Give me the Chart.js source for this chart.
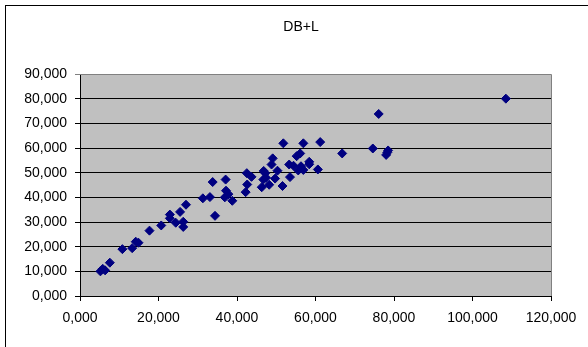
<!DOCTYPE html>
<html>
<head>
<meta charset="utf-8">
<script src="https://cdn.jsdelivr.net/npm/chart.js@4/dist/chart.umd.min.js"></script>
<style>
  html, body { margin: 0; padding: 0; background: #ffffff; }
  #wrap { width: 588px; height: 347px; position: relative; }
</style>
</head>
<body>
<div id="wrap"><canvas id="c" width="588" height="347"></canvas></div>
<script>
// DB+L scatter data (x, y pairs)
const chartTitle = 'DB+L';
const xValues = [
  5.2, 5.8, 6.4, 7.6, 10.8, 13.3, 14.2, 14.9, 17.7, 20.7,
  22.9, 22.9, 24.4, 25.5, 26.3, 26.3, 27.0, 31.3, 33.1, 33.8,
  34.4, 37.1, 37.2, 37.8, 36.9, 38.8, 42.5, 43.7, 42.6, 42.2,
  46.3, 46.7, 46.8, 47.2, 47.4, 48.2, 48.8, 49.1, 49.7, 50.3,
  51.6, 51.8, 53.3, 53.5, 54.4, 55.2, 56.1, 56.9, 55.6, 56.3,
  56.9, 58.4, 58.4, 60.6, 61.2, 66.8, 74.6, 76.1, 78.0, 78.3,
  78.5, 108.5
];
const yValues = [
  10.0, 11.0, 10.4, 13.5, 19.0, 19.4, 22.0, 21.6, 26.5, 28.6,
  33.0, 31.5, 29.7, 34.1, 30.1, 28.0, 37.0, 39.6, 40.1, 46.2,
  32.5, 47.2, 42.7, 41.3, 40.0, 38.6, 49.8, 48.3, 45.2, 42.1,
  44.1, 47.2, 50.7, 49.8, 47.9, 45.1, 53.3, 55.8, 47.6, 50.8,
  44.6, 61.9, 53.3, 48.2, 52.8, 56.7, 57.8, 61.9, 50.9, 52.6,
  51.1, 54.4, 53.4, 51.3, 62.4, 57.8, 59.8, 73.8, 57.2, 58.2,
  59.0, 80.0
];
const xTicks = [0, 20, 40, 60, 80, 100, 120];
const yTicks = [0, 10, 20, 30, 40, 50, 60, 70, 80, 90];

const points = xValues.map((x, i) => ({ x: x, y: yValues[i] }));
const fmt = v => Number(v).toFixed(3).replace('.', ',');
const FONT = '"Liberation Sans", Arial, sans-serif';

// grey plot area, frame and title
const decor = {
  id: 'decor',
  beforeDraw(chart) {
    const { ctx, chartArea: a } = chart;
    ctx.save();
    ctx.fillStyle = '#ffffff';
    ctx.fillRect(0, 0, chart.width, chart.height);
    ctx.fillStyle = '#c0c0c0';
    ctx.fillRect(a.left, a.top, a.right - a.left, a.bottom - a.top);
    ctx.restore();
  },
  afterDatasetsDraw(chart) {
    const { ctx, chartArea: a } = chart;
    ctx.save();
    ctx.strokeStyle = '#808080';
    ctx.lineWidth = 1;
    ctx.beginPath();
    ctx.moveTo(a.left, a.top + 0.5);
    ctx.lineTo(Math.round(a.right) + 0.5, a.top + 0.5);
    ctx.lineTo(Math.round(a.right) + 0.5, a.bottom);
    ctx.stroke();
    // outer chart frame
    ctx.strokeStyle = '#000000';
    ctx.strokeRect(5.5, 5.5, 620, 420);
    // title
    ctx.fillStyle = '#000000';
    ctx.font = '14px ' + FONT;
    ctx.textAlign = 'center';
    ctx.textBaseline = 'middle';
    ctx.fillText(chartTitle, 301, 27);
    ctx.restore();
  }
};

new Chart(document.getElementById('c'), {
  type: 'scatter',
  data: {
    datasets: [{
      data: points,
      pointStyle: 'rectRot',
      pointRadius: 4.5,
      pointHoverRadius: 4.5,
      backgroundColor: '#000080',
      borderColor: '#000080',
      borderWidth: 1
    }]
  },
  options: {
    responsive: false,
    animation: false,
    events: [],
    layout: { padding: { left: 0, right: 37, top: 74, bottom: 0 } },
    plugins: { legend: { display: false }, title: { display: false }, tooltip: { enabled: false } },
    scales: {
      x: {
        type: 'linear',
        min: 0, max: 120,
        afterBuildTicks: s => { s.ticks = xTicks.map(v => ({ value: v })); },
        afterFit: s => { s.height = 51; },
        border: { color: '#000000', width: 1 },
        grid: { drawOnChartArea: false, drawTicks: true, tickLength: 5, color: '#000000' },
        ticks: { callback: fmt, color: '#000000', font: { family: FONT, size: 14 }, padding: 9, maxRotation: 0, autoSkip: false }
      },
      y: {
        type: 'linear',
        min: 0, max: 90,
        afterBuildTicks: s => { s.ticks = yTicks.map(v => ({ value: v })); },
        afterFit: s => { s.width = 80; },
        border: { color: '#000000', width: 1 },
        grid: {
          drawTicks: true, tickLength: 5,
          color: c => (c.tick && c.tick.value === 90 ? '#808080' : '#000000')
        },
        ticks: { callback: fmt, color: '#000000', font: { family: FONT, size: 14 }, padding: 8, autoSkip: false }
      }
    }
  },
  plugins: [decor]
});
</script>
</body>
</html>
